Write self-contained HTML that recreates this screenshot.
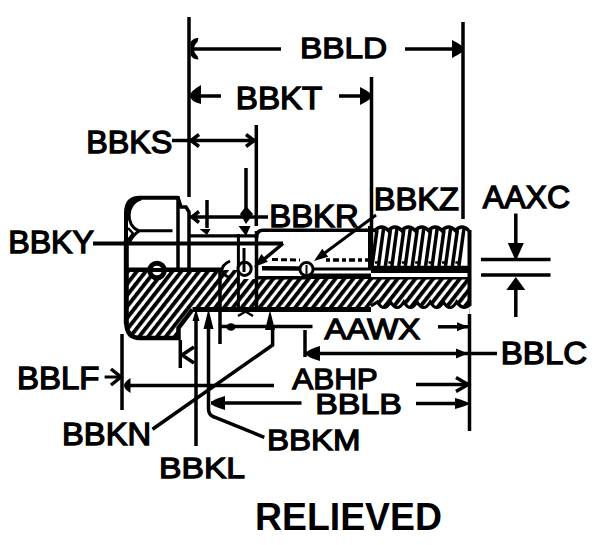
<!DOCTYPE html>
<html><head><meta charset="utf-8"><style>html,body{margin:0;padding:0;background:#fff;width:613px;height:545px;overflow:hidden}svg{display:block}</style></head>
<body><svg width="613" height="545" viewBox="0 0 613 545">
<rect width="613" height="545" fill="#fff"/>
<g stroke="black" fill="black" stroke-linecap="butt" font-family="Liberation Sans, sans-serif">
<defs><pattern id="h" width="7" height="10" patternUnits="userSpaceOnUse" patternTransform="rotate(38)"><rect x="0" y="0" width="3.3" height="10" fill="black"/></pattern></defs>
<line x1="189" y1="17" x2="189" y2="197" stroke-width="3.5"/>
<line x1="194" y1="49" x2="281" y2="49" stroke-width="3.5"/>
<path d="M190.5,42 Q194,37.5 198.5,38 L197.5,42 Q194,45 194,49 Q194,53 197.5,56 L198.5,59.5 Q193,59.5 190.5,55 Z" stroke="none"/>
<line x1="405" y1="49" x2="458" y2="49" stroke-width="3.5"/>
<path d="M452,40 Q464,46 464,49 Q464,52 452,58 Z" stroke="none"/>
<line x1="463" y1="22" x2="463" y2="219" stroke-width="3.5"/>
<line x1="198" y1="96" x2="221" y2="96" stroke-width="3.5"/>
<path d="M201,85 Q189,92 190,96 Q190,101 201,104 Z" stroke="none"/>
<line x1="339" y1="96" x2="365" y2="96" stroke-width="3.5"/>
<path d="M360,87 Q372,93 372,96 Q372,99 360,105 Z" stroke="none"/>
<line x1="371.5" y1="77" x2="371.5" y2="262" stroke-width="3.5"/>
<line x1="172" y1="140.5" x2="256" y2="140.5" stroke-width="3.5"/>
<polyline points="199.0,134.5 191,140.5 199.0,146.5" fill="none" stroke-width="3.5"/>
<polyline points="246.0,146.5 254,140.5 246.0,134.5" fill="none" stroke-width="3.5"/>
<line x1="256.3" y1="125" x2="256.3" y2="226" stroke-width="3.5"/>
<line x1="246" y1="168" x2="246" y2="212" stroke-width="3.5"/>
<path d="M240,214 L246,206 L253,214 L246,224 Z" stroke="none"/>
<line x1="189" y1="217" x2="268" y2="217" stroke-width="3.5"/>
<polyline points="199.0,211.5 192,217 199.0,222.5" fill="none" stroke-width="3.5"/>
<line x1="207" y1="200" x2="207" y2="228" stroke-width="3.5"/>
<path d="M199.5,229 L210.5,229 L207,235 Z" stroke="none"/>
<path d="M238.5,226 L250.5,226 L246,236 Z" stroke="none"/>
<line x1="189" y1="235.8" x2="257" y2="235.8" stroke-width="3.2"/>
<path d="M126,322 V213 Q126,197.8 140,197.8 H178" stroke-width="4" fill="none"/>
<line x1="126.3" y1="240" x2="126.3" y2="324" stroke-width="5"/>
<line x1="178" y1="196" x2="178" y2="269" stroke-width="3.5"/>
<path d="M178,197.5 L181,207 H186 L189,212 V269" stroke-width="3.5" fill="none"/>
<path d="M141,199 C126,203 125,226 139,230.8 H172.5" stroke-width="3" fill="none"/>
<path d="M126,214 Q126,197.8 140,197.8 L142,199.5 C133,202 129,208 128,215 Z" stroke="none"/>
<path d="M128,228 L133,233.5 L128,240" stroke-width="2.5" fill="none"/>
<path d="M139,231 Q133,235 129.5,242" stroke-width="3" fill="none"/>
<line x1="93" y1="243.5" x2="283" y2="243.5" stroke-width="4"/>
<path d="M283,243.5 L262,261" stroke-width="3.5" fill="none"/>
<polygon points="254.0,267.0 261.4,254.1 267.9,261.7" stroke="none"/>
<path d="M126.5,270 H238.5 V279 H469.5 V314 H371 V309.5 H192.5 L178.5,328 V338 H140 Q126.5,338 126.5,324 Z" fill="url(#h)" stroke="none"/>
<path d="M126.3,322 Q126.3,338 140,338 H178.5 V328 L192.5,309.5" stroke-width="4.5" fill="none"/>
<line x1="126.5" y1="269.8" x2="221" y2="269.8" stroke-width="4.5"/>
<line x1="192.5" y1="309.5" x2="371" y2="309.5" stroke-width="4.8"/>
<path d="M371,306 L377.4,302 Q384.0,313 390.6,302 Q397.2,313 403.8,302 Q410.4,313 417.0,302 Q423.6,313 430.2,302 Q436.8,313 443.4,302 Q450.0,313 456.6,302 Q463.2,311 469.5,305 L469.5,316 H371 Z" fill="white" stroke="none"/>
<path d="M371,306 L377.4,302 Q384.0,313 390.6,302 Q397.2,313 403.8,302 Q410.4,313 417.0,302 Q423.6,313 430.2,302 Q436.8,313 443.4,302 Q450.0,313 456.6,302 Q463.2,311 469.5,305 " stroke-width="3.2" fill="none"/>
<line x1="220" y1="268" x2="220" y2="344" stroke-width="3.5"/>
<line x1="256.5" y1="231" x2="256.5" y2="310" stroke-width="3.5"/>
<line x1="238.4" y1="234" x2="238.4" y2="310" stroke-width="3"/>
<circle cx="157" cy="270.5" r="7.3" fill="white" stroke="black" stroke-width="5"/>
<line x1="145" y1="270" x2="169" y2="270" stroke-width="4"/>
<path d="M230,261 Q222,265 222,270 Q222,274 230,278" stroke-width="3" fill="none"/>
<line x1="238" y1="307" x2="253" y2="316" stroke-width="2.5"/>
<line x1="253" y1="307" x2="238" y2="316" stroke-width="2.5"/>
<path d="M256.5,238 Q256.5,230.3 263,230.3 H371" stroke-width="3.5" fill="none"/>
<line x1="262" y1="268.25" x2="300" y2="268.5" stroke-width="4.5"/>
<line x1="312" y1="269" x2="371" y2="269" stroke-width="3"/>
<line x1="371" y1="269.35" x2="470" y2="269.35" stroke-width="7.3"/>
<line x1="256.5" y1="277.7" x2="310" y2="277.7" stroke-width="3.4"/>
<line x1="310" y1="276.25" x2="371" y2="276.25" stroke-width="5.5"/>
<line x1="371" y1="278.2" x2="469.5" y2="278.2" stroke-width="2.4"/>
<line x1="272" y1="259.5" x2="300" y2="260" stroke-width="3" stroke-dasharray="6 3"/>
<line x1="326" y1="260" x2="368" y2="260" stroke-width="3.5" stroke-dasharray="4 3 6 3"/>
<line x1="375" y1="262.5" x2="468" y2="262.5" stroke-width="2.5" stroke-dasharray="3 10.4"/>
<circle cx="244.6" cy="268.8" r="6.6" fill="white" stroke="black" stroke-width="3"/>
<circle cx="306.5" cy="269.2" r="6.6" fill="white" stroke="black" stroke-width="3"/>
<line x1="244" y1="248" x2="244" y2="272" stroke-width="3"/>
<line x1="306.5" y1="265" x2="306.5" y2="274" stroke-width="2"/>
<line x1="376" y1="215" x2="322" y2="255" stroke-width="3"/>
<polygon points="314.0,261.0 322.3,248.7 328.2,256.7" stroke="none"/>
<path d="M371,229.5 L374.9,230.5 Q381.59999999999997,223.5 388.29999999999995,230.5 Q394.99999999999994,223.5 401.69999999999993,230.5 Q408.4,223.5 415.09999999999997,230.5 Q421.79999999999995,223.5 428.49999999999994,230.5 Q435.2,223.5 441.9,230.5 Q448.59999999999997,223.5 455.29999999999995,230.5 Q461.99999999999994,223.5 468.69999999999993,230.5 " stroke-width="3.5" fill="none"/>
<line x1="377.0" y1="230" x2="372.0" y2="266" stroke-width="3.5"/>
<line x1="383.5" y1="229" x2="378.5" y2="266" stroke-width="3.5"/>
<line x1="390.4" y1="230" x2="385.4" y2="266" stroke-width="3.5"/>
<line x1="396.9" y1="229" x2="391.9" y2="266" stroke-width="3.5"/>
<line x1="403.8" y1="230" x2="398.8" y2="266" stroke-width="3.5"/>
<line x1="410.3" y1="229" x2="405.3" y2="266" stroke-width="3.5"/>
<line x1="417.2" y1="230" x2="412.2" y2="266" stroke-width="3.5"/>
<line x1="423.7" y1="229" x2="418.7" y2="266" stroke-width="3.5"/>
<line x1="430.6" y1="230" x2="425.6" y2="266" stroke-width="3.5"/>
<line x1="437.1" y1="229" x2="432.1" y2="266" stroke-width="3.5"/>
<line x1="444.0" y1="230" x2="439.0" y2="266" stroke-width="3.5"/>
<line x1="450.5" y1="229" x2="445.5" y2="266" stroke-width="3.5"/>
<line x1="457.4" y1="230" x2="452.4" y2="266" stroke-width="3.5"/>
<line x1="463.9" y1="229" x2="458.9" y2="266" stroke-width="3.5"/>
<line x1="469.5" y1="230" x2="469.5" y2="306" stroke-width="4"/>
<line x1="370.5" y1="226" x2="370.5" y2="268" stroke-width="5"/>
<line x1="122" y1="334" x2="122" y2="410" stroke-width="3.5"/>
<line x1="104.6" y1="377" x2="120.5" y2="377" stroke-width="3"/>
<polyline points="111.0,385.0 121,377 111.0,369.0" fill="none" stroke-width="3.5"/>
<line x1="180.3" y1="340" x2="180.3" y2="368" stroke-width="3.5"/>
<polyline points="194.0,347.0 182,355 194.0,363.0" fill="none" stroke-width="3.5"/>
<line x1="126" y1="385.5" x2="274" y2="385.5" stroke-width="3.5"/>
<path d="M130.5,378 Q124,382 124,385.5 Q124,389 130.5,393 Z" stroke="none"/>
<line x1="416" y1="384.5" x2="468" y2="384.5" stroke-width="3.5"/>
<polyline points="456.0,391.5 468,384.5 456.0,377.5" fill="none" stroke-width="3.5"/>
<line x1="196" y1="318" x2="196" y2="446" stroke-width="3.5"/>
<polygon points="196.0,309.0 199.5,321.0 192.5,321.0" stroke="none"/>
<path d="M208.5,325 V409 Q208.5,415 214,417 L264.3,437.3" stroke-width="3.5" fill="none"/>
<polygon points="208.5,309.0 213.5,329.0 203.5,329.0" stroke="none"/>
<path d="M152.5,429.3 L272.6,345 V325" stroke-width="3.5" fill="none"/>
<polygon points="270.0,310.0 275.0,330.0 265.0,330.0" stroke="none"/>
<line x1="220" y1="326.5" x2="312.5" y2="326.5" stroke-width="3.5"/>
<ellipse cx="231" cy="327" rx="4.5" ry="3.8" stroke="none"/>
<line x1="438" y1="326.8" x2="468" y2="326.8" stroke-width="3.5"/>
<polygon points="468.0,326.8 457.0,331.3 457.0,322.3" stroke="none"/>
<line x1="305" y1="330" x2="305" y2="357" stroke-width="3.5"/>
<line x1="305" y1="353.5" x2="497" y2="353.5" stroke-width="3.5"/>
<path d="M320,346 Q306,350 306,353.5 Q306,357 320,361 Z" stroke="none"/>
<polygon points="468.0,353.5 456.0,358.5 456.0,348.5" stroke="none"/>
<line x1="211" y1="403" x2="301.5" y2="403" stroke-width="3.5"/>
<path d="M225,396 Q211,400 211,403 Q211,406 225,410 Z" stroke="none"/>
<line x1="416" y1="403.5" x2="462" y2="403.5" stroke-width="3.5"/>
<path d="M455,398 Q469,402 469,403.5 Q469,405 455,409 Z" stroke="none"/>
<line x1="469.5" y1="314" x2="469.5" y2="431" stroke-width="3.5"/>
<line x1="515.8" y1="213.5" x2="515.8" y2="245" stroke-width="3.5"/>
<polygon points="515.8,261.0 507.8,243.0 523.8,243.0" stroke="none"/>
<line x1="481" y1="259.5" x2="550.5" y2="259.5" stroke-width="3.5"/>
<line x1="481" y1="275" x2="550.5" y2="275" stroke-width="3.5"/>
<line x1="515.8" y1="317" x2="515.8" y2="288" stroke-width="3.5"/>
<polygon points="515.8,277.0 525.3,290.0 506.3,290.0" stroke="none"/>
<text transform="translate(299.98,58.08) scale(1.012,0.920)" font-size="33" stroke="black" stroke-width="1.4">BBLD</text>
<text transform="translate(235.79,109.25) scale(1.005,0.948)" font-size="33" stroke="black" stroke-width="1.4">BBKT</text>
<text transform="translate(86.24,153.45) scale(0.979,0.948)" font-size="33" stroke="black" stroke-width="1.4">BBKS</text>
<text transform="translate(8.15,253.07) scale(0.976,0.932)" font-size="33" stroke="black" stroke-width="1.4">BBKY</text>
<text transform="translate(269.20,226.96) scale(0.998,0.936)" font-size="33" stroke="black" stroke-width="1.4">BBKR</text>
<text transform="translate(373.72,210.07) scale(0.990,0.932)" font-size="33" stroke="black" stroke-width="1.4">BBKZ</text>
<text transform="translate(482.87,208.07) scale(0.971,0.932)" font-size="33" stroke="black" stroke-width="1.4">AAXC</text>
<text transform="translate(324.40,338.69) scale(0.999,0.912)" font-size="33" stroke="black" stroke-width="1.4">AAWX</text>
<text transform="translate(500.80,363.96) scale(1.002,0.936)" font-size="33" stroke="black" stroke-width="1.4">BBLC</text>
<text transform="translate(292.25,388.88) scale(0.952,0.916)" font-size="33" stroke="black" stroke-width="1.4">ABHP</text>
<text transform="translate(315.25,414.31) scale(1.027,0.892)" font-size="33" stroke="black" stroke-width="1.4">BBLB</text>
<text transform="translate(267.00,449.78) scale(1.000,0.920)" font-size="33" stroke="black" stroke-width="1.4">BBKM</text>
<text transform="translate(17.00,389.27) scale(0.999,0.932)" font-size="33" stroke="black" stroke-width="1.4">BBLF</text>
<text transform="translate(62.02,444.96) scale(0.991,0.936)" font-size="33" stroke="black" stroke-width="1.4">BBKN</text>
<text transform="translate(159.06,478.19) scale(1.020,0.912)" font-size="33" stroke="black" stroke-width="1.4">BBKL</text>
<text transform="translate(254.99,530.00) scale(0.935,0.979)" font-size="40" font-weight="bold" stroke="none">RELIEVED</text>
</g></svg></body></html>
